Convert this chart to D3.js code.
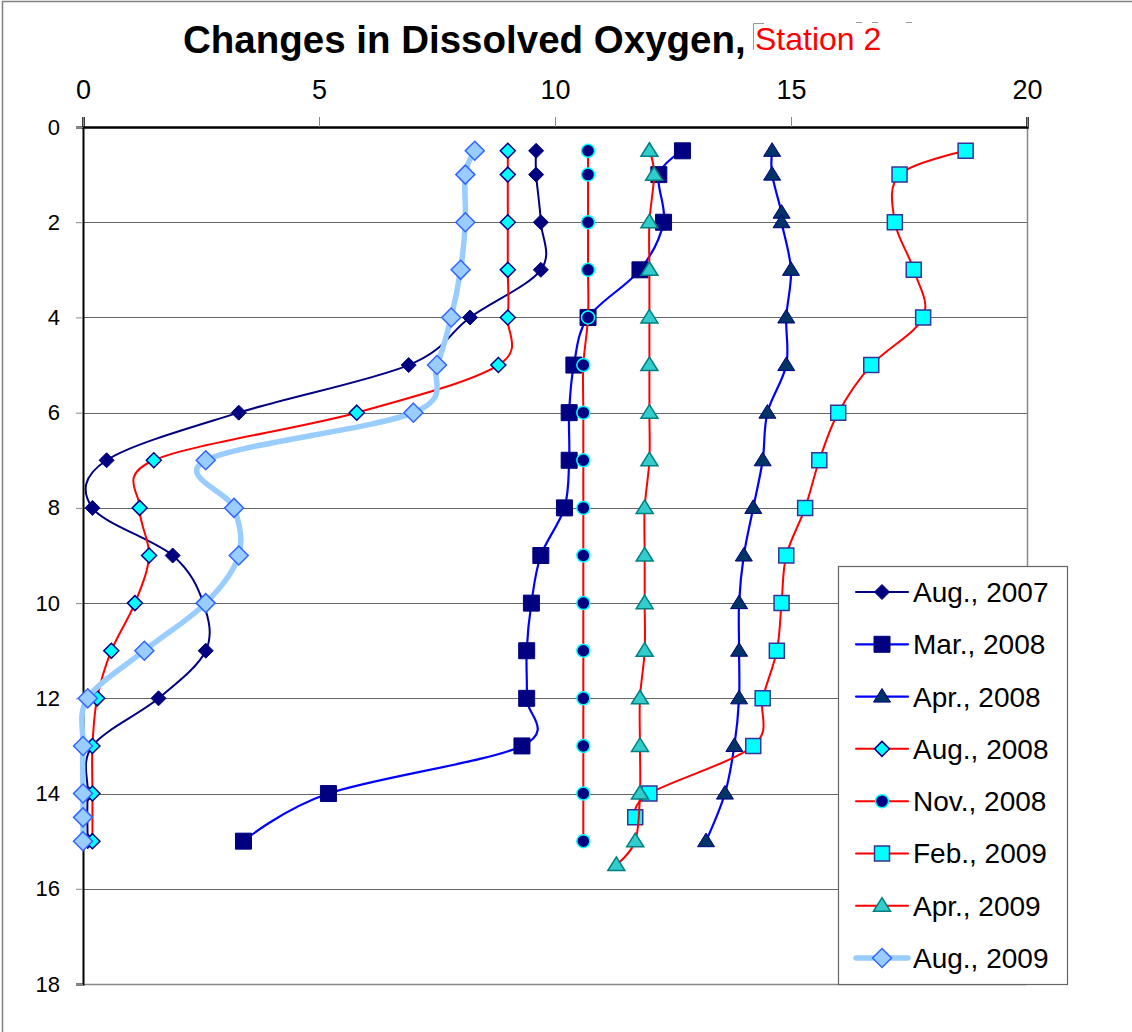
<!DOCTYPE html>
<html><head><meta charset="utf-8">
<script src="https://cdn.jsdelivr.net/npm/d3@7"></script>
<style>body{margin:0;background:#fff} svg{display:block;font-family:"Liberation Sans",Arial,sans-serif}</style>
</head><body><svg id="c" width="1132" height="1032"></svg>
<script>
// ---- data ----
const seriesNames = ["Aug., 2007","Mar., 2008","Apr., 2008","Aug., 2008","Nov., 2008","Feb., 2009","Apr., 2009","Aug., 2009"];
const xTicks = [0,5,10,15,20];
const yTicks = [0,2,4,6,8,10,12,14,16,18];

const depthStd = [0.5,1,2,3,4,5,6,7,8,9,10,11,12,13,14,15];
const depthApr2008 = [0.5,1,1.8,2,3,4,5,6,7,8,9,10,11,12,13,14,15];
const depthFeb2009 = [0.5,1,2,3,4,5,6,7,8,9,10,11,12,13,14,14.5];
const depthApr2009 = [0.5,1,2,3,4,5,6,7,8,9,10,11,12,13,14,15,15.5];
const depthAug2009 = [0.5,1,2,3,4,5,6,7,8,9,10,11,12,13,14,14.5,15];

const doAug2007 = [9.6,9.6,9.7,9.7,8.2,6.9,3.3,0.5,0.2,1.9,2.55,2.6,1.6,0.2,0.1,0.1];
const doMar2008 = [12.7,12.2,12.3,11.8,10.7,10.4,10.3,10.3,10.2,9.7,9.5,9.4,9.4,9.3,5.2,3.4];
const doApr2008 = [14.6,14.6,14.8,14.8,15.0,14.9,14.9,14.5,14.4,14.2,14.0,13.9,13.9,13.9,13.8,13.6,13.2];
const doAug2008 = [9.0,9.0,9.0,9.0,9.0,8.8,5.8,1.5,1.2,1.4,1.1,0.6,0.3,0.2,0.2,0.2];
const doNov2008 = [10.7,10.7,10.7,10.7,10.7,10.6,10.6,10.6,10.6,10.6,10.6,10.6,10.6,10.6,10.6,10.6];
const doFeb2009 = [18.7,17.3,17.2,17.6,17.8,16.7,16.0,15.6,15.3,14.9,14.8,14.7,14.4,14.2,12.0,11.7];
const doApr2009 = [12.0,12.1,12.0,12.0,12.0,12.0,12.0,12.0,11.9,11.9,11.9,11.9,11.8,11.8,11.8,11.7,11.3];
const doAug2009 = [8.3,8.1,8.1,8.0,7.8,7.5,7.0,2.6,3.2,3.3,2.6,1.3,0.1,0,0,0,0];

// ---- styles (built from data) ----
const series = [
  {name:seriesNames[0], d:depthStd,     v:doAug2007, line:"#000080", lw:2,   shape:"diamond", size:7.5, fill:"#000080", stroke:"#000080", sw:1},
  {name:seriesNames[1], d:depthStd,     v:doMar2008, line:"#0000FF", lw:2.2, shape:"square",  size:8,   fill:"#000080", stroke:"#000080", sw:1},
  {name:seriesNames[2], d:depthApr2008, v:doApr2008, line:"#0000FF", lw:2.2, shape:"triangle",size:8.5, fill:"#003366", stroke:"#000080", sw:1},
  {name:seriesNames[3], d:depthStd,     v:doAug2008, line:"#FF0000", lw:2,   shape:"diamond", size:7.5, fill:"#00FFFF", stroke:"#000080", sw:1.5},
  {name:seriesNames[4], d:depthStd,     v:doNov2008, line:"#FF0000", lw:2,   shape:"circle",  size:6.5, fill:"#000080", stroke:"#00FFFF", sw:1.5},
  {name:seriesNames[5], d:depthFeb2009, v:doFeb2009, line:"#FF0000", lw:2,   shape:"square",  size:7.5, fill:"#00FFFF", stroke:"#333399", sw:1.5},
  {name:seriesNames[6], d:depthApr2009, v:doApr2009, line:"#FF0000", lw:2,   shape:"triangle",size:8.5, fill:"#33CCCC", stroke:"#008080", sw:1.5},
  {name:seriesNames[7], d:depthAug2009, v:doAug2009, line:"#99CCFF", lw:5.5, shape:"diamond", size:9.5, fill:"#99CCFF", stroke:"#3366FF", sw:1.5}
];

const svg = d3.select("#c");
const x = d3.scaleLinear().domain([0,20]).range([83,1027]);
const y = d3.scaleLinear().domain([0,18]).range([127,984]);

// outer chart border
svg.append("path").attr("d","M2.5,1040 V1.5 H1140").attr("fill","none").attr("stroke","#808080").attr("stroke-width",1.5);

// title
svg.append("text").attr("x",183).attr("y",53).attr("font-size",38.5).attr("font-weight","bold").attr("fill","#000")
  .text("Changes in Dissolved Oxygen,");
svg.append("text").attr("x",755).attr("y",50).attr("font-size",32).attr("fill","#FF0000").text("Station 2");
// remnant text box border pieces
svg.append("path").attr("d","M753.5,50 V23.5 H764 M856,22.5 H862 M872,22.5 H878 M906,22.5 H912")
  .attr("fill","none").attr("stroke","#999").attr("stroke-width",1);

// gridlines
svg.append("g").selectAll("line").data(yTicks.filter(t=>t>0 && t<18)).join("line")
  .attr("x1",x(0)).attr("x2",x(20)).attr("y1",d=>Math.round(y(d))+0.5).attr("y2",d=>Math.round(y(d))+0.5)
  .attr("stroke","#666").attr("stroke-width",1);

// plot border
svg.append("line").attr("x1",x(20)+0.5).attr("x2",x(20)+0.5).attr("y1",y(0)).attr("y2",y(18)).attr("stroke","#888").attr("stroke-width",1.5);
svg.append("line").attr("x1",x(0)).attr("x2",x(20)).attr("y1",y(18)+0.5).attr("y2",y(18)+0.5).attr("stroke","#888").attr("stroke-width",1.5);

// top axis
const xAxis = d3.axisTop(x).tickValues(xTicks).tickSize(10).tickPadding(18).tickFormat(d3.format("d"));
const gx = svg.append("g").attr("transform",`translate(0,${y(0)})`).call(xAxis);
gx.select(".domain").attr("stroke","#000").attr("stroke-width",2.5);
gx.selectAll(".tick line").attr("stroke","#888").attr("stroke-width",1);
gx.selectAll(".tick text").attr("font-size",27).attr("fill","#000").attr("font-family","Liberation Sans, Arial, sans-serif");

// left axis
const yAxis = d3.axisLeft(y).tickValues(yTicks).tickSize(7).tickPadding(16).tickFormat(d3.format("d"));
const gy = svg.append("g").attr("transform",`translate(${x(0)},0)`).call(yAxis);
gy.select(".domain").attr("stroke","#000").attr("stroke-width",2);
gy.selectAll(".tick line").attr("stroke","#888").attr("stroke-width",1);
gy.selectAll(".tick text").attr("font-size",22).attr("fill","#000").attr("font-family","Liberation Sans, Arial, sans-serif");

// markers
function markerPath(shape, s){
  if(shape==="diamond") return `M0,${-s}L${s},0L0,${s}L${-s},0Z`;
  if(shape==="square") return `M${-s},${-s}H${s}V${s}H${-s}Z`;
  if(shape==="triangle") return `M0,${-s*0.95}L${s},${s*0.65}L${-s},${s*0.65}Z`;
  return d3.arc()({innerRadius:0,outerRadius:s,startAngle:0,endAngle:2*Math.PI});
}

const lineGen = d3.line().x(p=>x(p[1])).y(p=>y(p[0])).curve(d3.curveCatmullRom.alpha(0));
const plot = svg.append("g");
series.forEach(s=>{
  const pts = s.d.map((dd,i)=>[dd,s.v[i]]);
  const g = plot.append("g");
  g.append("path").attr("d",lineGen(pts)).attr("fill","none").attr("stroke",s.line).attr("stroke-width",s.lw).attr("stroke-linejoin","round").attr("stroke-linecap","round");
  g.selectAll("path.m").data(pts).join("path").attr("class","m")
    .attr("transform",p=>`translate(${x(p[1])},${y(p[0])})`)
    .attr("d",markerPath(s.shape,s.size)).attr("fill",s.fill).attr("stroke",s.stroke).attr("stroke-width",s.sw);
});

// legend
const lg = svg.append("g");
lg.append("rect").attr("x",838.5).attr("y",566.5).attr("width",229).attr("height",418).attr("fill","#fff").attr("stroke","#666").attr("stroke-width",1.2);
const ly = d3.scalePoint().domain(seriesNames).range([592,958]);
series.forEach(s=>{
  const cy = ly(s.name);
  lg.append("line").attr("x1",856).attr("x2",908).attr("y1",cy).attr("y2",cy).attr("stroke",s.line).attr("stroke-width",s.lw).attr("stroke-linecap","round");
  lg.append("path").attr("transform",`translate(882,${cy})`).attr("d",markerPath(s.shape,s.size)).attr("fill",s.fill).attr("stroke",s.stroke).attr("stroke-width",s.sw);
  lg.append("text").attr("x",913).attr("y",cy+10).attr("font-size",28).attr("fill","#000").text(s.name);
});
</script></body></html>
